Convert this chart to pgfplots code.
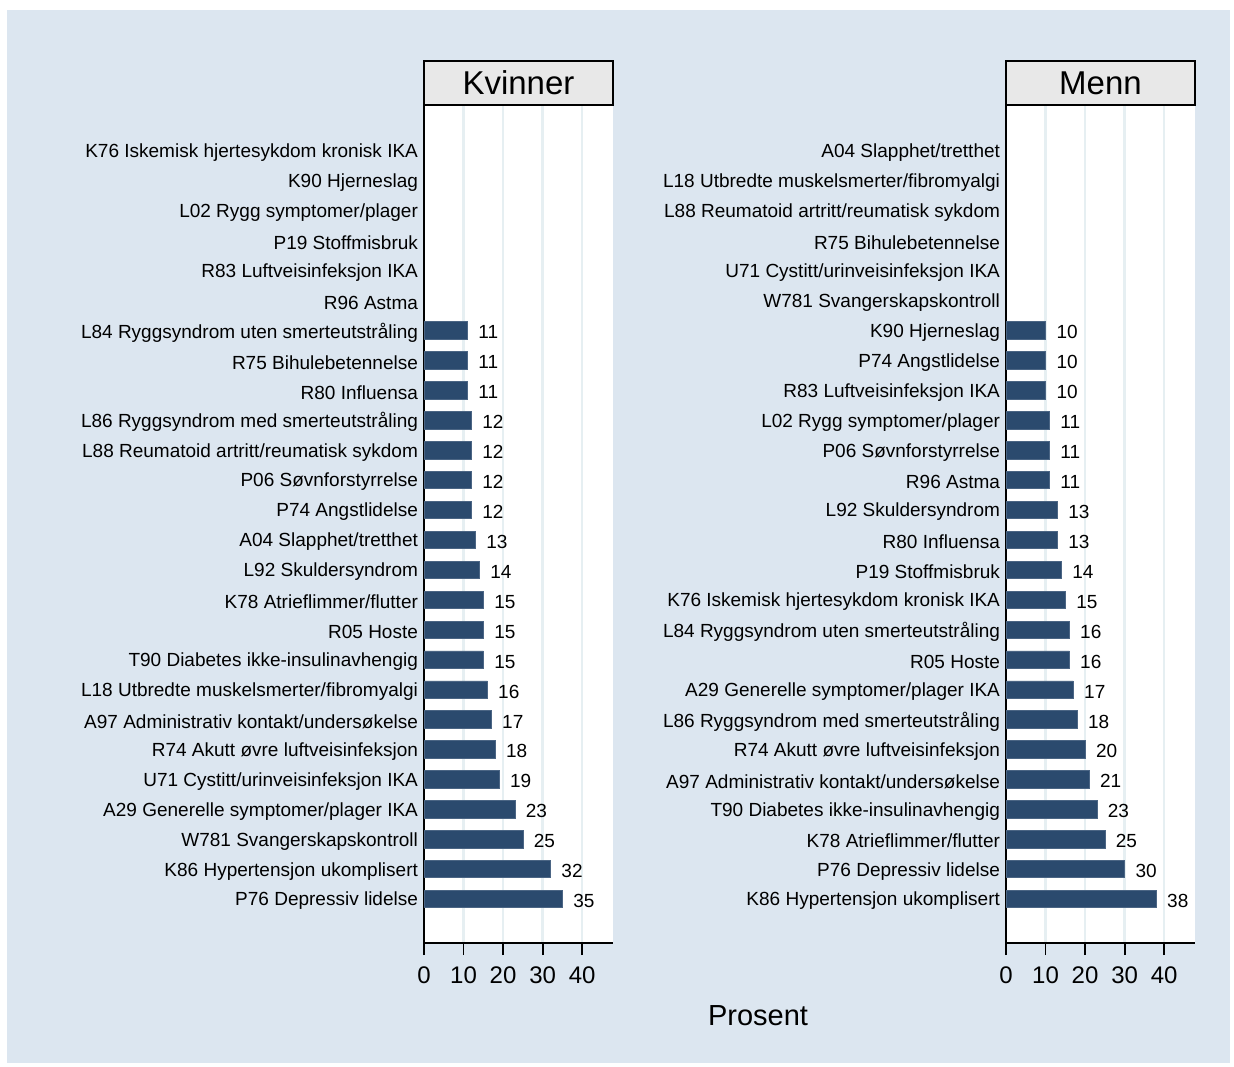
\documentclass[border=0pt]{standalone}
\usepackage{fontspec}
\setmainfont{Liberation Sans}
\usepackage{pgfplots}
\pgfplotsset{compat=1.18}
\definecolor{bgblue}{RGB}{220,230,240}
\definecolor{barblue}{RGB}{43,74,110}
\definecolor{gridc}{RGB}{230,239,242}
\definecolor{hdr}{RGB}{232,232,232}
\pgfplotsset{panel/.style={
  anchor=south west, scale only axis, width=94.5pt, height=418.5pt,
  xbar, bar width=0.58, xmin=0, xmax=47.8, ymin=-0.47, ymax=27.5,
  axis x line*=bottom, axis y line*=left,
  axis line style={line width=0.9pt, black, -},
  xtick={0,10,20,30,40}, tick align=outside,
  x tick style={line width=0.9pt, black}, major tick length=6pt,
  ytick={1,...,26}, y tick style={draw=none},
  xmajorgrids, grid style={gridc, line width=1.3pt},
  axis background/.style={fill=white},
  /pgf/number format/assume math mode=true,
  xticklabel style={font=\fontsize{12}{14}\selectfont, yshift=-2.5pt},
  yticklabel style={font=\fontsize{9.5}{10}\selectfont, xshift=6.5pt, yshift=-1pt},
  point meta=x,
  nodes near coords, nodes near coords style={font=\fontsize{9.5}{10}\selectfont, anchor=west, xshift=2pt, yshift=-1pt, black},
  every axis title shift=0pt,
  title style={at={(0.5,1)}, anchor=south, draw=black, fill=hdr, line width=0.8pt, minimum width=94.5pt, minimum height=22pt, inner sep=0pt, yshift=0pt, font=\fontsize{16.5}{18}\selectfont},
  clip=false,
}}
\begin{document}
\begin{tikzpicture}
\fill[white] (0,0) rectangle (617pt,533pt);
\fill[bgblue] (3.5pt,1.5pt) rectangle (615pt,528pt);
\begin{axis}[panel, at={(212pt,61.5pt)}, title={Kvinner},
  yticklabels={P76 Depressiv lidelse, K86 Hypertensjon ukomplisert, W781 Svangerskapskontroll, A29 Generelle symptomer/plager IKA, U71 Cystitt/urinveisinfeksjon IKA, R74 Akutt øvre luftveisinfeksjon, A97 Administrativ kontakt/undersøkelse, L18 Utbredte muskelsmerter/fibromyalgi, T90 Diabetes ikke-insulinavhengig, R05 Hoste, K78 Atrieflimmer/flutter, L92 Skuldersyndrom, A04 Slapphet/tretthet, P74 Angstlidelse, P06 Søvnforstyrrelse, L88 Reumatoid artritt/reumatisk sykdom, L86 Ryggsyndrom med smerteutstråling, R80 Influensa, R75 Bihulebetennelse, L84 Ryggsyndrom uten smerteutstråling, R96 Astma, R83 Luftveisinfeksjon IKA, P19 Stoffmisbruk, L02 Rygg symptomer/plager, K90 Hjerneslag, K76 Iskemisk hjertesykdom kronisk IKA}]
\addplot[fill=barblue, draw=barblue!85!white, line width=0.3pt] coordinates {
(35,1) (32,2) (25,3) (23,4) (19,5) (18,6) (17,7) (16,8) (15,9) (15,10)
(15,11) (14,12) (13,13) (12,14) (12,15) (12,16) (12,17) (11,18) (11,19) (11,20)};
\end{axis}
\begin{axis}[panel, at={(503pt,61.5pt)}, title={Menn},
  yticklabels={K86 Hypertensjon ukomplisert, P76 Depressiv lidelse, K78 Atrieflimmer/flutter, T90 Diabetes ikke-insulinavhengig, A97 Administrativ kontakt/undersøkelse, R74 Akutt øvre luftveisinfeksjon, L86 Ryggsyndrom med smerteutstråling, A29 Generelle symptomer/plager IKA, R05 Hoste, L84 Ryggsyndrom uten smerteutstråling, K76 Iskemisk hjertesykdom kronisk IKA, P19 Stoffmisbruk, R80 Influensa, L92 Skuldersyndrom, R96 Astma, P06 Søvnforstyrrelse, L02 Rygg symptomer/plager, R83 Luftveisinfeksjon IKA, P74 Angstlidelse, K90 Hjerneslag, W781 Svangerskapskontroll, U71 Cystitt/urinveisinfeksjon IKA, R75 Bihulebetennelse, L88 Reumatoid artritt/reumatisk sykdom, L18 Utbredte muskelsmerter/fibromyalgi, A04 Slapphet/tretthet}]
\addplot[fill=barblue, draw=barblue!85!white, line width=0.3pt] coordinates {
(38,1) (30,2) (25,3) (23,4) (21,5) (20,6) (18,7) (17,8) (16,9) (16,10)
(15,11) (14,12) (13,13) (13,14) (11,15) (11,16) (11,17) (10,18) (10,19) (10,20)};
\end{axis}
\node[font=\fontsize{14.5}{16}\selectfont] at (379pt,25pt) {Prosent};
\pgfresetboundingbox
\useasboundingbox (0,0) rectangle (617pt,533pt);
\end{tikzpicture}
\end{document}
